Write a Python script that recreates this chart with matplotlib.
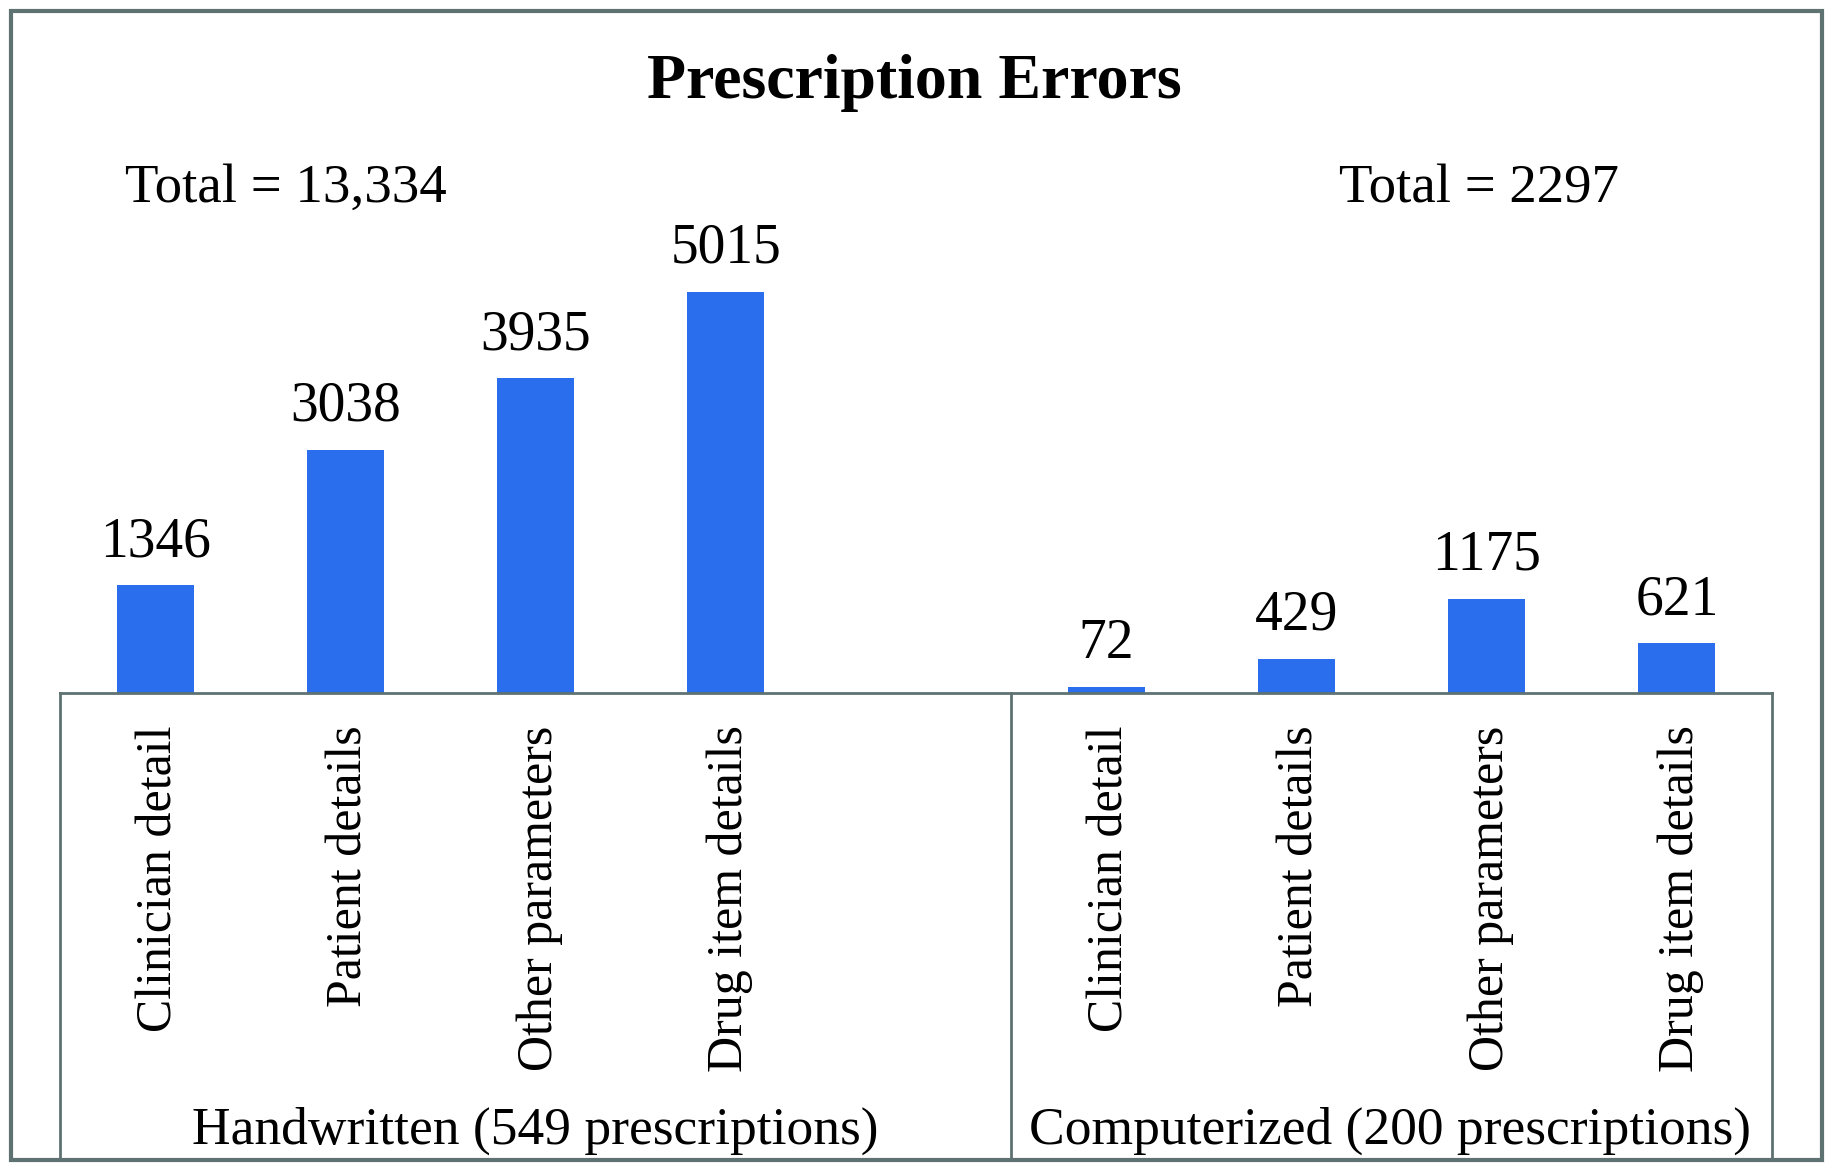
import matplotlib.pyplot as plt
from matplotlib.patches import Rectangle
from matplotlib.transforms import blended_transform_factory

# data
categories = ['Clinician detail', 'Patient details', 'Other parameters', 'Drug item details']
handwritten = [1346, 3038, 3935, 5015]
computerized = [72, 429, 1175, 621]
group_labels = ['Handwritten (549 prescriptions)', 'Computerized (200 prescriptions)']
totals = ['Total = 13,334', 'Total = 2297']

plt.rcParams['font.family'] = ['Liberation Serif', 'DejaVu Serif']

W, H = 1833, 1170
fig = plt.figure(figsize=(W / 100, H / 100), dpi=100)

# axes spans pixel x 60..1772, y 193..693 (from top)
ax = fig.add_axes([60 / W, (H - 693) / H, (1772 - 60) / W, 500 / H])
ax.set_xlim(-0.5, 8.5)
ax.set_ylim(0, 6250)
ax.axis('off')

bar_color = '#2a6ded'
edge = '#5f7272'
x1 = [0, 1, 2, 3]
x2 = [5, 6, 7, 8]
ax.bar(x1, handwritten, width=0.405, color=bar_color)
ax.bar(x2, computerized, width=0.405, color=bar_color)

for xs, vals in [(x1, handwritten), (x2, computerized)]:
    for x, v in zip(xs, vals):
        ax.annotate(str(v), (x, v), xytext=(0, 21), textcoords='offset points',
                    ha='center', va='baseline', fontsize=40)

# category box below the bars
tr = blended_transform_factory(ax.transData, ax.transAxes)
box_bottom = -(1160 - 693) / 500
ax.plot([-0.5, 8.5], [0, 0], color=edge, lw=2, transform=tr, clip_on=False)
for xv in [-0.5, 4.5, 8.5]:
    ax.plot([xv, xv], [0, box_bottom], color=edge, lw=2, transform=tr, clip_on=False)

for xs in (x1, x2):
    for x, c in zip(xs, categories):
        ax.text(x + 0.02, -0.065, c, rotation=90, ha='center', va='top', fontsize=36,
                transform=tr)

ax.text(2.0, -0.875, group_labels[0], ha='center', va='center', fontsize=38.5, transform=tr)
ax.text(6.49, -0.875, group_labels[1], ha='center', va='center', fontsize=38.5, transform=tr)

# totals and title
fig.text(286 / W, 1 - 189 / H, totals[0], ha='center', va='center', fontsize=39.5)
fig.text(1479 / W, 1 - 189 / H, totals[1], ha='center', va='center', fontsize=39.5)
fig.text(914 / W, 1 - 83 / H, 'Prescription Errors', ha='center', va='center',
         fontsize=46, fontweight='bold')

# outer frame
fig.add_artist(Rectangle((11 / W, 1 - 1160 / H), (1822 - 11) / W, (1160 - 11) / H,
                         transform=fig.transFigure, fill=False, edgecolor=edge, lw=3))

fig.savefig('out.png', dpi=100)
